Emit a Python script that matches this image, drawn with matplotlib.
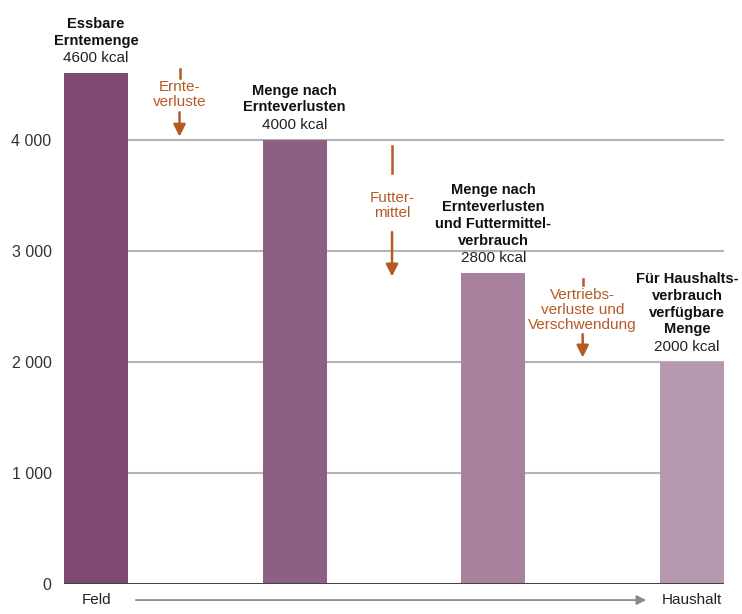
import matplotlib.pyplot as plt

# data
stufen = ['Essbare\nErntemenge', 'Menge nach\nErnteverlusten',
          'Menge nach\nErnteverlusten\nund Futtermittel-\nverbrauch',
          'Für Haushalts-\nverbrauch\nverfügbare\nMenge']
kcal = [4600, 4000, 2800, 2000]
farben = ['#7e4a75', '#8d6083', '#a8819f', '#b698b0']
verluste = ['Ernte-\nverluste', 'Futter-\nmittel', 'Vertriebs-\nverluste und\nVerschwendung']
yticks = [0, 1000, 2000, 3000, 4000]
ytick_labels = ['0', '1 000', '2 000', '3 000', '4 000']

plt.rcParams['font.family'] = ['Liberation Sans', 'DejaVu Sans']

fig = plt.figure(figsize=(7.42, 6.14), dpi=100)
ax = fig.add_axes([0.0863, 0.0489, 0.8894, 0.94])

x = list(range(len(kcal)))
ax.bar(x, kcal, width=0.323, color=farben, zorder=2)
ax.set_xlim(-0.1615, 3.1615)
ax.set_ylim(0, 5200)

for g in yticks[1:]:
    ax.axhline(g, color='#b4b4b4', lw=1.5, zorder=1)
ax.axhline(0, color='#444444', lw=2.2, zorder=3)

ax.set_yticks(yticks)
ax.set_yticklabels(ytick_labels, fontsize=11.5, color='#333333')
ax.tick_params(axis='y', length=0, pad=9)
ax.set_xticks([])
for s in ax.spines.values():
    s.set_visible(False)

# labels above bars (last one nudged left so it stays inside the figure)
for xi, name, v in zip(x, stufen, kcal):
    lx = xi - 0.025 if xi == x[-1] else xi
    ax.text(lx, v + 75, f'{v} kcal', ha='center', va='bottom', fontsize=11,
            color='#222222')
    ax.text(lx, v + 230, name, ha='center', va='bottom', fontsize=10.5,
            fontweight='bold', color='#111111', linespacing=1.25)

# loss arrows
orange = '#b65a24'
pos = [0.42, 1.49, 2.45]
oben = [4640, 3946, 2745]
text_top = [4560, 3700, 2690]
text_mid = [4410, 3410, 2470]
pfeil_start = [4250, 3170, 2250]
pfeil_end = [4030, 2770, 2040]
for p, t, a, tt, tm, b, e in zip(pos, verluste, oben, text_top, text_mid, pfeil_start, pfeil_end):
    ax.plot([p, p], [a, tt], color=orange, lw=1.8, zorder=4)
    ax.text(p, tm, t, ha='center', va='center', fontsize=11, color=orange,
            linespacing=1.1, zorder=5)
    ax.annotate('', xy=(p, e), xytext=(p, b),
                arrowprops=dict(arrowstyle='-|>', color=orange, lw=1.8,
                                mutation_scale=18, shrinkA=0, shrinkB=0))

# bottom flow arrow
ax.text(0, -145, 'Feld', ha='center', va='center', fontsize=11, color='#222222')
ax.text(3, -145, 'Haushalt', ha='center', va='center', fontsize=11, color='#222222')
ax.annotate('', xy=(2.77, -145), xytext=(0.2, -145), annotation_clip=False,
            arrowprops=dict(arrowstyle='-|>', color='#8a8a8a', lw=1.3,
                            mutation_scale=14, shrinkA=0, shrinkB=0))

fig.savefig('out.png', dpi=100)
